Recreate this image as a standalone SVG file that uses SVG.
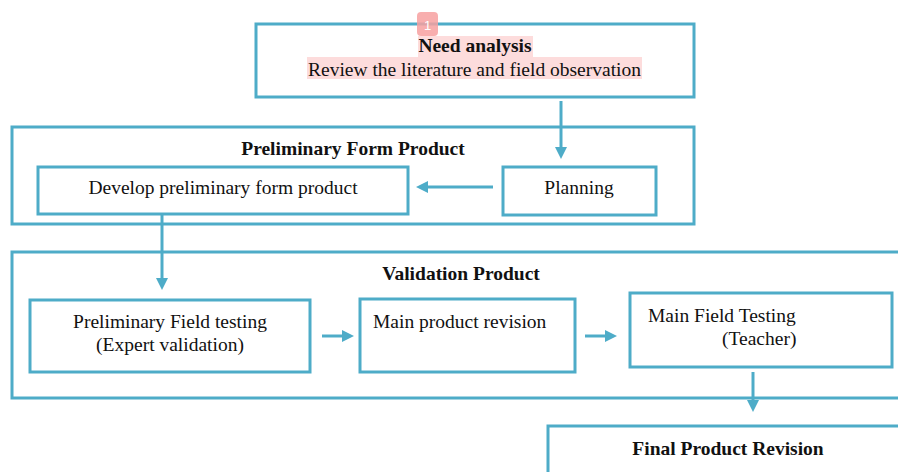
<svg xmlns="http://www.w3.org/2000/svg" width="898" height="472" viewBox="0 0 898 472">
<style>
.box{fill:none;stroke:#4eacc8;stroke-width:3}
.t{font-family:"Liberation Serif","Times New Roman",serif;font-size:19.5px;fill:#111}
.b{font-weight:bold}
.c{text-anchor:middle}
.con{stroke:#4eacc8;stroke-width:3;fill:none}
.hl{fill:#fcd3d3;opacity:0.8}
</style>
<defs>
<marker id="ah" markerWidth="4" markerHeight="4" refX="2" refY="2" orient="auto" markerUnits="strokeWidth">
<path d="M0,0 L4,2 L0,4 Z" fill="#4eacc8"/>
</marker>
</defs>
<rect width="898" height="472" fill="#fff"/>
<g id="need">
<rect class="hl" x="418" y="36" width="115" height="21"/>
<rect class="hl" x="307" y="57" width="335" height="22"/>
<rect class="box" x="256" y="24" width="438" height="73"/>
<rect x="417" y="12" width="21" height="24" rx="4" fill="#f7a0a0" opacity="0.85"/>
<text x="427.5" y="30" font-family="Liberation Sans,sans-serif" font-size="13" fill="#fff" text-anchor="middle">1</text>
<text class="t b c" x="475" y="52">Need analysis</text>
<text class="t c" x="474.5" y="76">Review the literature and field observation</text>
</g>
<g id="prelim-group">
<rect class="box" x="12" y="127" width="682" height="97"/>
<text class="t b c" x="353" y="155">Preliminary Form Product</text>
</g>
<g id="develop">
<rect class="box" x="38" y="167" width="370" height="47"/>
<text class="t c" x="223" y="194">Develop preliminary form product</text>
</g>
<g id="planning">
<rect class="box" x="503" y="167" width="153" height="48"/>
<text class="t c" x="579" y="194">Planning</text>
</g>
<g id="validation-group">
<rect class="box" x="12" y="252" width="900" height="146"/>
<text class="t b c" x="461" y="280">Validation Product</text>
</g>
<g id="pft">
<rect class="box" x="30" y="300" width="280" height="72"/>
<text class="t c" x="170" y="328">Preliminary Field testing</text>
<text class="t c" x="170" y="351">(Expert validation)</text>
</g>
<g id="mpr">
<rect class="box" x="360" y="299" width="215" height="73"/>
<text class="t" x="373" y="328">Main product revision</text>
</g>
<g id="mft">
<rect class="box" x="630" y="293" width="262" height="74"/>
<text class="t" x="648" y="322">Main Field Testing</text>
<text class="t" x="722" y="345">(Teacher)</text>
</g>
<g id="final">
<rect class="box" x="548" y="426" width="370" height="60"/>
<text class="t b c" x="728" y="455">Final Product Revision</text>
</g>
<g id="connectors">
<line class="con" x1="561" y1="101" x2="561" y2="153" marker-end="url(#ah)"/>
<line class="con" x1="493" y1="187" x2="422" y2="187" marker-end="url(#ah)"/>
<line class="con" x1="162" y1="214" x2="162" y2="284" marker-end="url(#ah)"/>
<line class="con" x1="322" y1="336" x2="348" y2="336" marker-end="url(#ah)"/>
<line class="con" x1="585" y1="336" x2="611" y2="336" marker-end="url(#ah)"/>
<line class="con" x1="753" y1="372" x2="753" y2="406" marker-end="url(#ah)"/>
</g>
</svg>
